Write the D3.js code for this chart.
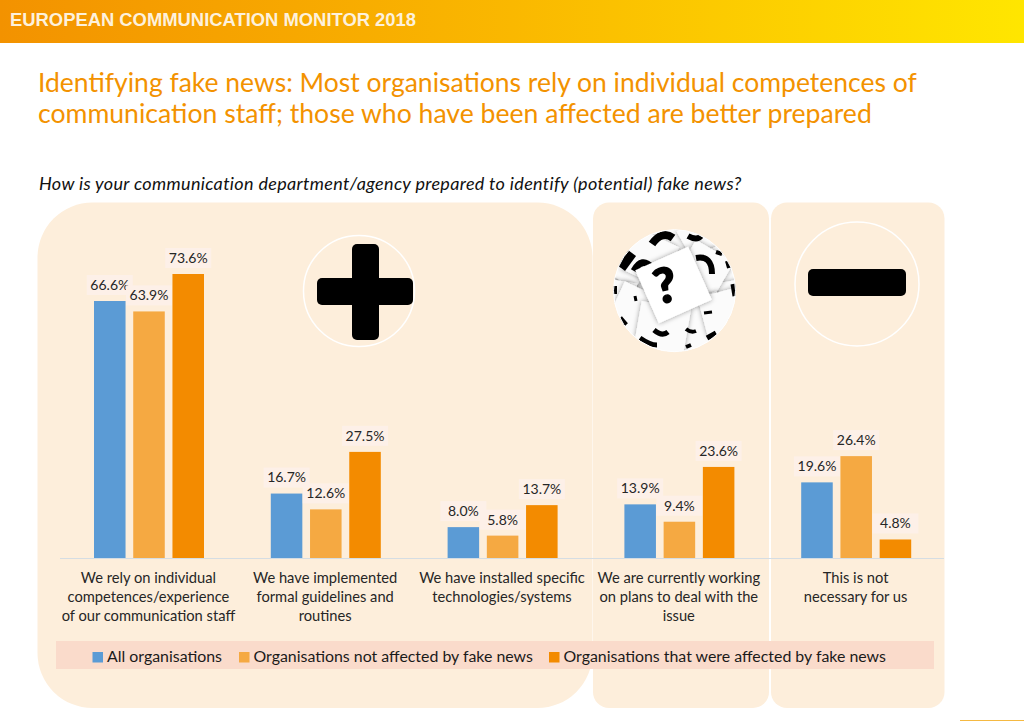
<!DOCTYPE html>
<html>
<head>
<meta charset="utf-8">
<script src="https://cdnjs.cloudflare.com/ajax/libs/d3/7.8.5/d3.min.js"></script>
<style>
  html, body { margin: 0; padding: 0; background: #fff; }
  svg { display: block; }
  text { font-family: Lato, "Open Sans", sans-serif; }
</style>
</head>
<body>
<svg id="chart" width="1024" height="721"></svg>
<script>
    // ============ DATA =================
    var categories = ["c1", "c2", "c3", "c4", "c5"];
    var categoryLabels = [
        ["We rely on individual", "competences/experience", "of our communication staff"],
        ["We have implemented", "formal guidelines and", "routines"],
        ["We have installed specific", "technologies/systems"],
        ["We are currently working", "on plans to deal with the", "issue"],
        ["This is not", "necessary for us"]
    ];
    var seriesNames = ["All organisations", "Organisations not affected by fake news", "Organisations that were affected by fake news"];
    var allOrgs = [66.6, 16.7, 8.0, 13.9, 19.6];
    var notAffected = [63.9, 12.6, 5.8, 9.4, 26.4];
    var affected = [73.6, 27.5, 13.7, 23.6, 4.8];
    var seriesColors = ["#5b9bd5", "#f5a942", "#f38b00"];
    var legendX = [92.5, 239, 549];

    var svg = d3.select("#chart");
    var defs = svg.append("defs");

    // ============ HEADER =================
    var grad = defs.append("linearGradient").attr("id", "headerGrad");
    grad.append("stop").attr("offset", "0%").attr("stop-color", "#f39200");
    grad.append("stop").attr("offset", "50%").attr("stop-color", "#fab800");
    grad.append("stop").attr("offset", "100%").attr("stop-color", "#ffe600");
    svg.append("rect").attr("width", 1024).attr("height", 43).attr("fill", "url(#headerGrad)");
    svg.append("text").attr("x", 10).attr("y", 25.5)
        .style("font-family", "'Liberation Sans', Arial, sans-serif")
        .style("font-weight", "bold").style("font-size", "18.4px")
        .attr("fill", "#fdf1dc")
        .text("EUROPEAN COMMUNICATION MONITOR 2018");

    svg.append("text").attr("x", 38).attr("y", 92).attr("fill", "#f39200").style("font-size", "26.5px")
        .text("Identifying fake news: Most organisations rely on individual competences of");
    svg.append("text").attr("x", 38).attr("y", 123).attr("fill", "#f39200").style("font-size", "26.6px")
        .text("communication staff; those who have been affected are better prepared");
    svg.append("text").attr("x", 39).attr("y", 190).attr("fill", "#111")
        .style("font-size", "18px").style("letter-spacing", "0.33px").style("font-style", "italic")
        .text("How is your communication department/agency prepared to identify (potential) fake news?");

    // ============ PANELS =================
    var panelFill = "#fdeedb";
    svg.append("rect").attr("x", 37.5).attr("y", 202.5).attr("width", 555).attr("height", 505.5).attr("rx", 55).attr("fill", panelFill);
    svg.append("rect").attr("x", 593).attr("y", 202.5).attr("width", 176).attr("height", 505.5).attr("rx", 16).attr("fill", panelFill);
    svg.append("rect").attr("x", 771).attr("y", 202.5).attr("width", 173.5).attr("height", 505.5).attr("rx", 16).attr("fill", panelFill);

    // ============ SCALES =================
    var x0 = d3.scaleBand().domain(categories).range([60, 944]);
    var x1 = d3.scaleBand().domain(d3.range(3)).range([-54.4, 55.6]).paddingInner(0.196).paddingOuter(0);
    var y = d3.scaleLinear().domain([0, 73.6]).range([558, 274]);

    // ============ BARS =================
    [allOrgs, notAffected, affected].forEach(function (values, s) {
        var g = svg.append("g");
        g.selectAll("rect")
            .data(values)
            .enter().append("rect")
            .attr("x", function (d, i) { return x0(categories[i]) + x0.bandwidth() / 2 + x1(s); })
            .attr("y", function (d) { return y(d); })
            .attr("width", x1.bandwidth())
            .attr("height", function (d) { return y(0) - y(d); })
            .attr("fill", seriesColors[s]);

        // value labels with pale background
        var labels = g.selectAll("g.lab")
            .data(values)
            .enter().append("g")
            .attr("class", "lab")
            .attr("transform", function (d, i) {
                return "translate(" + (x0(categories[i]) + x0.bandwidth() / 2 + x1(s) + x1.bandwidth() / 2) + "," + (y(d) - 16) + ")";
            });
        labels.append("rect").attr("x", -23).attr("y", -10).attr("width", 46).attr("height", 20).attr("fill", "#fdf0e8");
        labels.append("text")
            .attr("text-anchor", "middle").attr("dy", "0.35em")
            .attr("fill", "#262626").style("font-size", "14px")
            .text(function (d) { return d.toFixed(1) + "%"; });
    });

    // axis line
    svg.append("line").attr("x1", 60).attr("x2", 944).attr("y1", y(0) + .5).attr("y2", y(0) + .5)
        .attr("stroke", "#d5dde3").attr("stroke-width", 1);

    // ============ CATEGORY LABELS =================
    var catText = svg.selectAll("text.cat")
        .data(categoryLabels)
        .enter().append("text")
        .attr("class", "cat")
        .attr("text-anchor", "middle")
        .attr("fill", "#262626")
        .style("font-size", "14.7px");
    catText.selectAll("tspan")
        .data(function (d, i) { return d.map(function (t) { return { t: t, i: i }; }); })
        .enter().append("tspan")
        .attr("x", function (d) { return x0(categories[d.i]) + x0.bandwidth() / 2; })
        .attr("y", function (d, j) { return 583 + j * 19.2; })
        .text(function (d) { return d.t; });

    // ============ LEGEND =================
    svg.append("rect").attr("x", 56).attr("y", 641).attr("width", 878).attr("height", 28).attr("fill", "#fadbcb");
    seriesNames.forEach(function (name, i) {
        svg.append("rect").attr("x", legendX[i]).attr("y", 652).attr("width", 10.5).attr("height", 10.5).attr("fill", seriesColors[i]);
        svg.append("text").attr("x", legendX[i] + 14.5).attr("y", 662).attr("fill", "#1a1a1a").style("font-size", "15.9px").text(name);
    });

    // ============ ICONS =================
    // plus
    svg.append("circle").attr("cx", 359).attr("cy", 291).attr("r", 55.5).attr("fill", "none").attr("stroke", "#fff").attr("stroke-width", 1.5);
    svg.append("rect").attr("x", 317).attr("y", 278).attr("width", 96).attr("height", 27).attr("rx", 5).attr("fill", "#000");
    svg.append("rect").attr("x", 352).attr("y", 244).attr("width", 27).attr("height", 96).attr("rx", 5).attr("fill", "#000");
    // minus
    svg.append("circle").attr("cx", 857).attr("cy", 284).attr("r", 62).attr("fill", "none").attr("stroke", "#fff").attr("stroke-width", 1.5);
    svg.append("rect").attr("x", 808).attr("y", 269).attr("width", 98).attr("height", 27).attr("rx", 5).attr("fill", "#000");

    // question mark pile
    var qc = { x: 674.5, y: 290.7, r: 61 };
    defs.append("clipPath").attr("id", "qClip").append("circle").attr("cx", qc.x).attr("cy", qc.y).attr("r", qc.r);
    defs.append("filter").attr("id", "paperShadow").attr("x", "-20%").attr("y", "-20%").attr("width", "140%").attr("height", "140%")
        .append("feDropShadow").attr("dx", 0).attr("dy", 0).attr("stdDeviation", 2.5).attr("flood-color", "#000").attr("flood-opacity", 0.4);
    var pile = svg.append("g").attr("clip-path", "url(#qClip)");
    pile.append("circle").attr("cx", qc.x).attr("cy", qc.y).attr("r", qc.r).attr("fill", "#eee");
    // [x, y, size, angle], back to front
    var papers = [
        [668, 232, 50, 10], [708, 240, 46, -30], [628, 258, 46, 35], [722, 268, 44, -25],
        [614, 300, 40, 10], [738, 298, 36, -10], [640, 345, 50, -35], [672, 352, 52, 15],
        [716, 342, 50, 30], [650, 258, 44, 25], [704, 270, 44, 30],
        [636, 312, 46, 25], [700, 326, 54, -20], [662, 330, 50, 10], [722, 312, 40, -15]
    ];
    papers.forEach(function (p) {
        pile.append("g").attr("transform", "translate(" + p[0] + "," + p[1] + ") rotate(" + p[3] + ")")
            .append("rect").attr("x", -p[2] / 2).attr("y", -p[2] / 2).attr("width", p[2]).attr("height", p[2])
            .attr("fill", "#fbfbfb").attr("filter", "url(#paperShadow)");
    });
    // bits of question marks showing between the papers
    var scraps = [
        ["M652,244Q662,230 673,238", 8], ["M688,236Q697,241 701,236", 6], ["M632,253L621,268", 10],
        ["M634,271Q642,256 652,268", 7], ["M696,258Q712,255 712,274", 6], ["M716,252L722,254", 4],
        ["M727,261L729,268", 4], ["M733,284L735,296", 5], ["M614,286L614,294", 6], ["M635,296L636,301", 3],
        ["M620,318L626,325", 5], ["M654,330Q662,337 668,332", 5], ["M686,329Q691,333 696,331", 4],
        ["M704,313L712,312", 3], ["M707,338L716,333", 5], ["M640,338Q650,345 657,345", 5], ["M686,347L691,345", 4]
    ];
    pile.selectAll("path.scrap")
        .data(scraps)
        .enter().append("path")
        .attr("class", "scrap")
        .attr("d", function (d) { return d[0]; })
        .attr("fill", "none")
        .attr("stroke", "#000")
        .attr("stroke-width", function (d) { return d[1]; });
    var topPaper = pile.append("g").attr("transform", "translate(673.5,285) rotate(-24)");
    topPaper.append("rect").attr("x", -29).attr("y", -29).attr("width", 58).attr("height", 58).attr("fill", "#fff").attr("filter", "url(#paperShadow)");
    pile.append("text").attr("transform", "translate(669,302) rotate(-13)").attr("text-anchor", "middle")
        .attr("fill", "#000").attr("stroke", "#000").attr("stroke-width", 1.5)
        .style("font-weight", "900").style("font-size", "48px").text("?");
    svg.append("circle").attr("cx", qc.x).attr("cy", qc.y).attr("r", qc.r).attr("fill", "none").attr("stroke", "#fff").attr("stroke-width", 1);

    // small line bottom right
    svg.append("line").attr("x1", 960).attr("x2", 1024).attr("y1", 720.5).attr("y2", 720.5).attr("stroke", "#f5b942");
</script>
</body>
</html>
